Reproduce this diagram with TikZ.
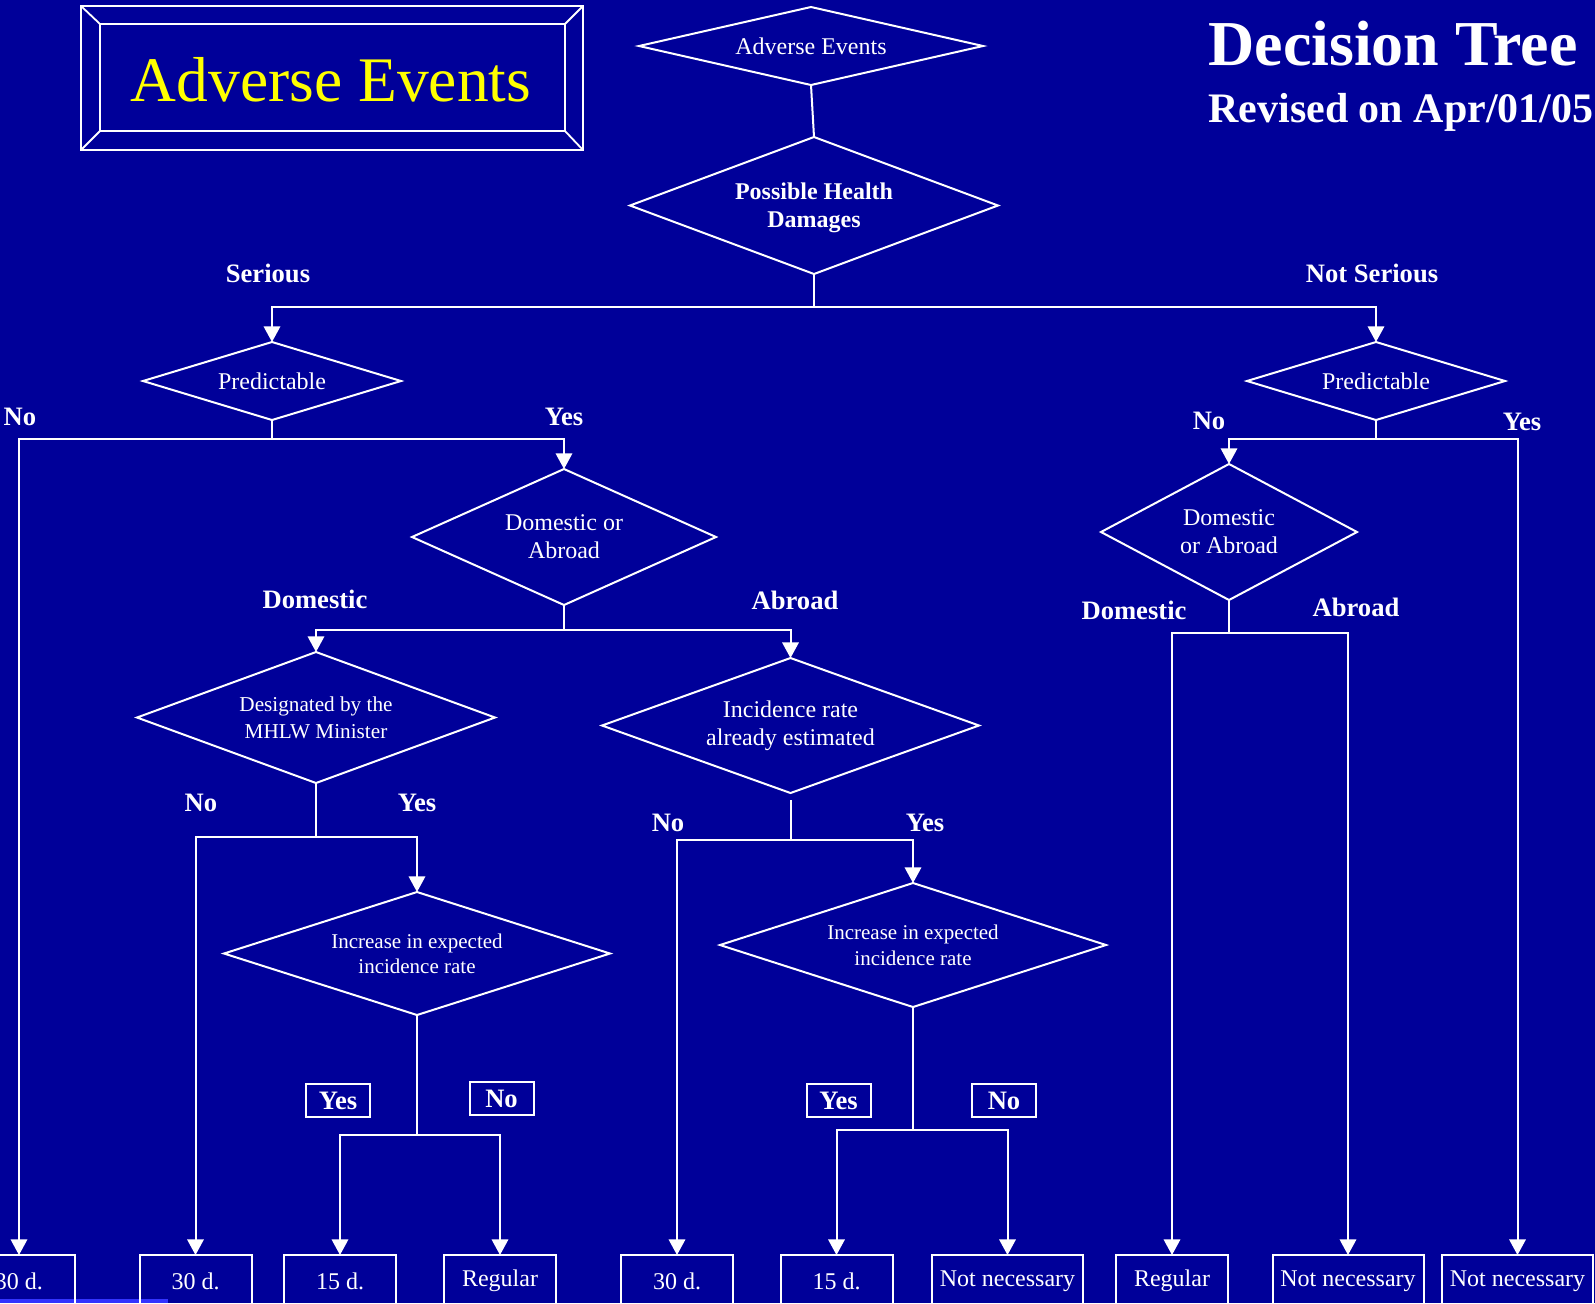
\documentclass[tikz,border=0pt]{standalone}
\usepackage{fontspec}
\setmainfont{Liberation Serif}
\usetikzlibrary{shapes.geometric,arrows.meta}
\definecolor{slidebg}{RGB}{0,0,153}
\definecolor{titleyellow}{RGB}{255,255,0}
\definecolor{barblue}{RGB}{51,51,255}
\begin{document}
\begin{tikzpicture}[x=0.5pt,y=-0.5pt,
  conn/.style={draw=white,line width=1pt},
  arr/.style={conn,-{Triangle[length=7.8pt,width=8.2pt]}},
  dia/.style={diamond,draw=white,line width=1pt,inner sep=0pt,outer sep=0pt,text=white,align=center},
  dtext/.style={font=\fontsize{12}{14}\selectfont},
  dsmall/.style={font=\fontsize{10.6}{13.5}\selectfont},
  endbox/.style={draw=white,line width=1pt,inner sep=0pt,outer sep=0pt,anchor=north,
    minimum height=26pt,minimum width=56pt,text=white,font=\fontsize{12}{14}\selectfont},
  widebox/.style={endbox,minimum width=75.5pt},
  lbl/.style={text=white,inner sep=0pt,font=\bfseries\fontsize{13.3}{16}\selectfont},
  ynbox/.style={lbl,draw=white,line width=1pt,minimum width=32pt,minimum height=16.5pt},
  frame/.style={draw=white,line width=0.9pt,inner sep=0pt,outer sep=0pt},
]
\useasboundingbox (0,0) rectangle (1595,1303);
\clip (0,0) rectangle (1595,1303);
\fill[slidebg] (0,0) rectangle (1595,1303);
\fill[barblue] (0,1299) rectangle (168,1303);

% bevelled title panel
\node[frame,minimum width=251pt,minimum height=72pt] (tframe) at (332,78) {};
\node[frame,minimum width=232.5pt,minimum height=53.5pt] (tpanel) at (332.5,77.5) {};
\draw[frame] (tframe.north west) -- (tpanel.north west);
\draw[frame] (tframe.north east) -- (tpanel.north east);
\draw[frame] (tframe.south west) -- (tpanel.south west);
\draw[frame] (tframe.south east) -- (tpanel.south east);
\node[anchor=base,inner sep=0pt,text=titleyellow,font=\fontsize{31.75}{36}\selectfont] (ttext) at (331,101) {Adverse Events};

% heading
\node[anchor=base west,inner sep=0pt,text=white,font=\bfseries\fontsize{32}{36}\selectfont] (dtitle) at (1208,65) {Decision Tree};
\node[anchor=base west,inner sep=0pt,text=white,font=\bfseries\fontsize{21}{25}\selectfont] (dsub) at (1208,122) {Revised on Apr/01/05};

% decision nodes
\node[dia,dtext,minimum width=172pt,minimum height=39pt,shape aspect=4.4] (ae) at (811,46) {Adverse Events};
\node[dia,font=\bfseries\fontsize{12}{14}\selectfont,minimum width=184pt,minimum height=68.5pt,shape aspect=2.69] (phd) at (814,205.5) {\\[-3pt]Possible Health\\Damages};
\node[dia,dtext,minimum width=129pt,minimum height=39pt,shape aspect=3.3] (predL) at (272,381) {Predictable};
\node[dia,dtext,minimum width=129pt,minimum height=39pt,shape aspect=3.3] (predR) at (1376,381) {Predictable};
\node[dia,dtext,minimum width=152pt,minimum height=68pt,shape aspect=2.24] (doaL) at (564,537) {Domestic or\\Abroad};
\node[dia,dtext,minimum width=128pt,minimum height=68pt,shape aspect=1.88] (doaR) at (1229,532) {Domestic\\or Abroad};
\node[dia,dsmall,minimum width=179pt,minimum height=65.5pt,shape aspect=2.73] (dmhlw) at (316,717.5) {Designated by the\\MHLW Minister};
\node[dia,dtext,minimum width=188.5pt,minimum height=67.5pt,shape aspect=2.79] (inc) at (790.5,725.5) {Incidence rate\\already estimated};
\node[dia,font=\fontsize{10.5}{12.5}\selectfont,minimum width=193pt,minimum height=61.5pt,shape aspect=3.14] (iexpL) at (417,953.5) {Increase in expected\\incidence rate};
\node[dia,font=\fontsize{10.5}{13}\selectfont,minimum width=193pt,minimum height=62pt,shape aspect=3.11] (iexpR) at (913,945) {Increase in expected\\incidence rate};

% outcomes
\node[endbox] (b1) at (19,1255) {30 d.};
\node[endbox] (b2) at (195.5,1255) {30 d.};
\node[endbox] (b3) at (340,1255) {15 d.};
\node[endbox] (b4) at (500,1255) {Regular};
\node[endbox] (b5) at (677,1255) {30 d.};
\node[endbox] (b6) at (836.5,1255) {15 d.};
\node[widebox] (b7) at (1007.5,1255) {Not necessary};
\node[endbox] (b8) at (1172,1255) {Regular};
\node[widebox] (b9) at (1348,1255) {Not necessary};
\node[widebox] (b10) at (1517.5,1255) {Not necessary};

% junction points
\coordinate (jTop) at (814,307);
\coordinate (jPL) at (272,439);
\coordinate (jPR) at (1376,439);
\coordinate (jDL) at (564,630);
\coordinate (jDR) at (1229,633);
\coordinate (jM) at (316,837);
\coordinate (incstub) at (791,800);
\coordinate (jI) at (791,840);
\coordinate (jEL) at (417,1135);
\coordinate (jER) at (913,1130);

% connectors
\draw[conn] (ae.south) -- (phd.north);
\draw[conn] (phd.south) -- (jTop);
\draw[arr] (jTop) -| (predL.north);
\draw[arr] (jTop) -| (predR.north);

\draw[conn] (predL.south) -- (jPL);
\draw[arr] (jPL) -| (b1.north);
\draw[arr] (jPL) -| (doaL.north);

\draw[conn] (predR.south) -- (jPR);
\draw[arr] (jPR) -| (doaR.north);
\draw[arr] (jPR) -| (b10.north);

\draw[conn] (doaL.south) -- (jDL);
\draw[arr] (jDL) -| (dmhlw.north);
\draw[arr] (jDL) -| (inc.north);

\draw[conn] (doaR.south) -- (jDR);
\draw[arr] (jDR) -| (b8.north);
\draw[arr] (jDR) -| (b9.north);

\draw[conn] (dmhlw.south) -- (jM);
\draw[arr] (jM) -| (b2.north);
\draw[arr] (jM) -| (iexpL.north);

\draw[conn] (incstub) -- (jI);
\draw[arr] (jI) -| (b5.north);
\draw[arr] (jI) -| (iexpR.north);

\draw[conn] (iexpL.south) -- (jEL);
\draw[arr] (jEL) -| (b3.north);
\draw[arr] (jEL) -| (b4.north);

\draw[conn] (iexpR.south) -- (jER);
\draw[arr] (jER) -| (b6.north);
\draw[arr] (jER) -| (b7.north);

% branch labels
\node[lbl] (lSer) at (268,273) {Serious};
\node[lbl] (lNSer) at (1372,273) {Not Serious};
\node[lbl] (lPLno) at (20,417) {No};
\node[lbl] (lPLyes) at (564,417) {Yes};
\node[lbl] (lPRno) at (1209,421) {No};
\node[lbl] (lPRyes) at (1522,422) {Yes};
\node[lbl] (lDLdom) at (315,599) {Domestic};
\node[lbl] (lDLabr) at (795,600) {Abroad};
\node[lbl] (lDRdom) at (1134,610) {Domestic};
\node[lbl] (lDRabr) at (1356,607) {Abroad};
\node[lbl] (lMno) at (201,803) {No};
\node[lbl] (lMyes) at (417,803) {Yes};
\node[lbl] (lIno) at (668,823) {No};
\node[lbl] (lIyes) at (925,823) {Yes};
\node[ynbox] (yL) at (338,1100.5) {Yes};
\node[ynbox] (nL) at (501.5,1098.5) {No};
\node[ynbox] (yR) at (838.5,1100.5) {Yes};
\node[ynbox] (nR) at (1004,1100.5) {No};
\end{tikzpicture}
\end{document}
